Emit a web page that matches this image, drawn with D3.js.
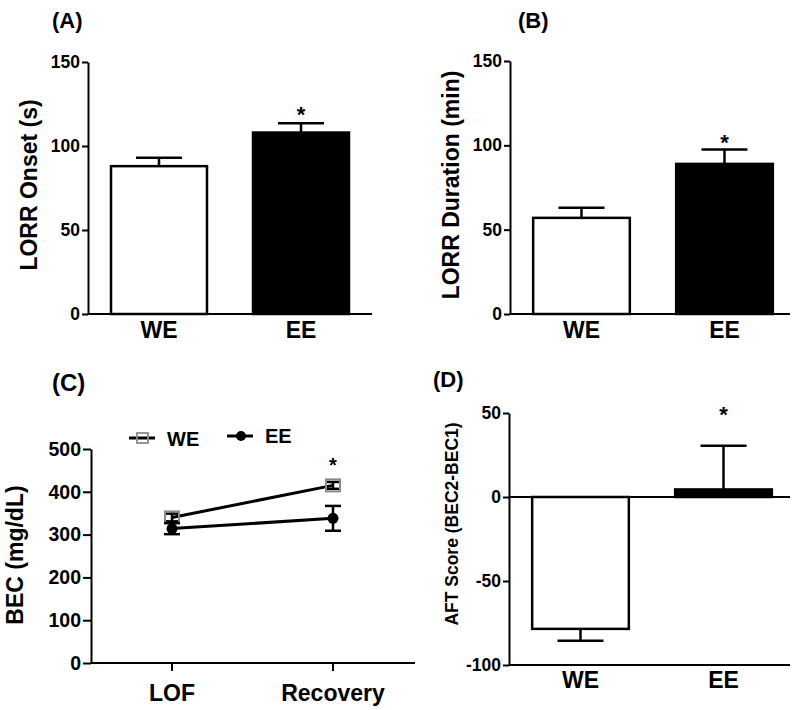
<!DOCTYPE html>
<html><head><meta charset="utf-8">
<script src="https://cdn.jsdelivr.net/npm/d3@7"></script>
<style>
html,body{margin:0;padding:0;background:#fff;}
svg text{font-family:"Liberation Sans",Arial,Helvetica,sans-serif;font-weight:bold;fill:#000;}
</style></head>
<body>
<svg id="chart" width="800" height="710"></svg>
<script>
// ---------- data ----------
const groups = ["WE", "EE"];
const onsetMean = [88, 108];
const onsetSEM = [5, 5.5];
const durationMean = [57, 89];
const durationSEM = [6, 8.5];
const aftMean = [-78.5, 4.5];
const aftSEM = [7, 26];
const timepoints = ["LOF", "Recovery"];
const becWE = [340, 415];
const becWEsem = [9, 8];
const becEE = [314, 338];
const becEEsem = [13, 29];
const ticksAB = [0, 50, 100, 150];
const ticksC = [0, 100, 200, 300, 400, 500];
const ticksD = [-100, -50, 0, 50];
const barFills = ["#ffffff", "#000000"];
const sigA = ["EE"], sigB = ["EE"], sigD = ["EE"], sigC = ["Recovery"];

const svg = d3.select("#chart");
const SW = 2.5;

function yAxis(g, x, y, ticks, fs, tickLen) {
  const ax = d3.axisLeft(y).tickValues(ticks).tickFormat(d => String(d))
    .tickSize(tickLen).tickPadding(2).tickSizeOuter(0);
  const a = g.append("g").attr("transform", `translate(${x},0)`).call(ax);
  a.attr("font-size", null).attr("font-family", null);
  a.selectAll("path,line").attr("stroke", "#000").attr("stroke-width", 2);
  a.selectAll("text").style("font-size", fs + "px");
  return a;
}

function title(g, text, x, y, fs) {
  g.append("text").attr("transform", `translate(${x},${y}) rotate(-90)`)
    .attr("text-anchor", "middle").attr("dy", "0.35em").style("font-size", fs + "px").text(text);
}

function star(g, x, yc, fs) {
  g.append("text").attr("x", x).attr("y", yc + 0.58 * fs).attr("text-anchor", "middle")
    .style("font-size", fs + "px").text("*");
}

function barPanel(opts) {
  const g = svg.append("g");
  const y = d3.scaleLinear().domain(opts.domain).range(opts.yRange);
  const x = d3.scaleBand().domain(groups).range(opts.bandRange).paddingInner(0.324).paddingOuter(0.162);
  const bw = x.bandwidth();
  groups.forEach((grp, i) => {
    const v = opts.means[i];
    const top = y(Math.max(0, v)), bot = y(Math.min(0, v));
    g.append("rect").attr("x", x(grp)).attr("y", top).attr("width", bw).attr("height", bot - top)
      .attr("fill", barFills[i]).attr("stroke", "#000").attr("stroke-width", SW);
    const dir = v >= 0 ? 1 : -1;
    const e = v + dir * opts.sems[i];
    const cx = x(grp) + bw / 2;
    g.append("line").attr("x1", cx).attr("x2", cx).attr("y1", y(v)).attr("y2", y(e))
      .attr("stroke", "#000").attr("stroke-width", SW);
    g.append("line").attr("x1", cx - 23).attr("x2", cx + 23).attr("y1", y(e)).attr("y2", y(e))
      .attr("stroke", "#000").attr("stroke-width", SW);
  });
  yAxis(g, opts.axisX, y, opts.ticks, opts.tickFs, 6);
  opts.hLines.forEach(v => {
    g.append("line").attr("x1", opts.axisX).attr("x2", opts.axisEnd).attr("y1", y(v)).attr("y2", y(v))
      .attr("stroke", "#000").attr("stroke-width", 2);
  });
  groups.forEach(grp => {
    g.append("text").attr("x", x(grp) + bw / 2).attr("y", opts.labelY).attr("text-anchor", "middle")
      .style("font-size", "23px").text(grp);
  });
  opts.sig.forEach(grp => {
    star(g, x(grp) + bw / 2, opts.starY, 22);
  });
  title(g, opts.title, opts.titleX, opts.titleY, opts.titleFs);
  g.append("text").attr("x", opts.panelX).attr("y", opts.panelY).style("font-size", "22px").text(opts.panel);
}

// (A)
barPanel({domain: [0, 150], yRange: [314, 62], bandRange: [88, 372], means: onsetMean, sems: onsetSEM,
  ticks: ticksAB, tickFs: 17.5, axisX: 88, axisEnd: 372, hLines: [0], labelY: 338, sig: sigA, starY: 109,
  title: "LORR Onset (s)", titleX: 29, titleY: 185, titleFs: 23, panel: "(A)", panelX: 52, panelY: 28});
// (B)
barPanel({domain: [0, 150], yRange: [314, 61], bandRange: [510, 796], means: durationMean, sems: durationSEM,
  ticks: ticksAB, tickFs: 17.5, axisX: 510, axisEnd: 790, hLines: [0], labelY: 338, sig: sigB, starY: 137,
  title: "LORR Duration (min)", titleX: 451, titleY: 185, titleFs: 23, panel: "(B)", panelX: 518, panelY: 28});
// (D)
barPanel({domain: [-100, 50], yRange: [665, 413], bandRange: [509, 795], means: aftMean, sems: aftSEM,
  ticks: ticksD, tickFs: 17.5, axisX: 509, axisEnd: 790, hLines: [0, -100], labelY: 688, sig: sigD, starY: 409,
  title: "AFT Score (BEC2-BEC1)", titleX: 452, titleY: 524, titleFs: 17.5, panel: "(D)", panelX: 433, panelY: 387});

// (C) line chart
(function () {
  const g = svg.append("g");
  const y = d3.scaleLinear().domain([0, 500]).range([663, 449]);
  const x = d3.scalePoint().domain(timepoints).range([172, 333]);
  yAxis(g, 91, y, ticksC, 19.5, 8);
  g.append("line").attr("x1", 91).attr("x2", 415).attr("y1", y(0)).attr("y2", y(0))
    .attr("stroke", "#000").attr("stroke-width", 2);
  timepoints.forEach(t => {
    g.append("line").attr("x1", x(t)).attr("x2", x(t)).attr("y1", y(0)).attr("y2", y(0) + 8)
      .attr("stroke", "#000").attr("stroke-width", 2);
    g.append("text").attr("x", x(t)).attr("y", 701).attr("text-anchor", "middle")
      .style("font-size", "23px").text(t);
  });
  const series = [
    {name: "WE", vals: becWE, sem: becWEsem, marker: "square"},
    {name: "EE", vals: becEE, sem: becEEsem, marker: "circle"}
  ];
  const line = d3.line().x((d, i) => x(timepoints[i])).y(d => y(d));
  series.forEach(s => {
    g.append("path").attr("d", line(s.vals)).attr("fill", "none").attr("stroke", "#000").attr("stroke-width", 3);
    s.vals.forEach((v, i) => {
      const cx = x(timepoints[i]);
      const lo = y(v - s.sem[i]), hi = y(v + s.sem[i]);
      g.append("line").attr("x1", cx).attr("x2", cx).attr("y1", lo).attr("y2", hi).attr("stroke", "#000").attr("stroke-width", 2.5);
      [lo, hi].forEach(yy => g.append("line").attr("x1", cx - 8).attr("x2", cx + 8).attr("y1", yy).attr("y2", yy)
        .attr("stroke", "#000").attr("stroke-width", 2.5));
      if (s.marker === "square") {
        g.append("rect").attr("x", cx - 7).attr("y", y(v) - 6).attr("width", 14).attr("height", 12)
          .attr("fill", "none").attr("stroke", "#8a8a8a").attr("stroke-width", 2);
      } else {
        g.append("circle").attr("cx", cx).attr("cy", y(v)).attr("r", 5.5).attr("fill", "#000");
      }
    });
  });
  sigC.forEach(t => star(g, x(t), 460, 20));
  // legend
  const lg = g.append("g");
  lg.append("line").attr("x1", 129).attr("x2", 155).attr("y1", 438).attr("y2", 438).attr("stroke", "#000").attr("stroke-width", 3);
  lg.append("rect").attr("x", 137).attr("y", 433).attr("width", 11).attr("height", 10).attr("fill", "none")
    .attr("stroke", "#8a8a8a").attr("stroke-width", 1.8);
  lg.append("text").attr("x", 167).attr("y", 446).style("font-size", "20px").text("WE");
  lg.append("line").attr("x1", 227).attr("x2", 253).attr("y1", 436).attr("y2", 436).attr("stroke", "#000").attr("stroke-width", 3);
  lg.append("circle").attr("cx", 241).attr("cy", 436).attr("r", 5).attr("fill", "#000");
  lg.append("text").attr("x", 265).attr("y", 443).style("font-size", "20px").text("EE");
  title(g, "BEC (mg/dL)", 15, 555, 23);
  g.append("text").attr("x", 52).attr("y", 391).style("font-size", "24px").text("(C)");
})();
</script>
</body></html>
